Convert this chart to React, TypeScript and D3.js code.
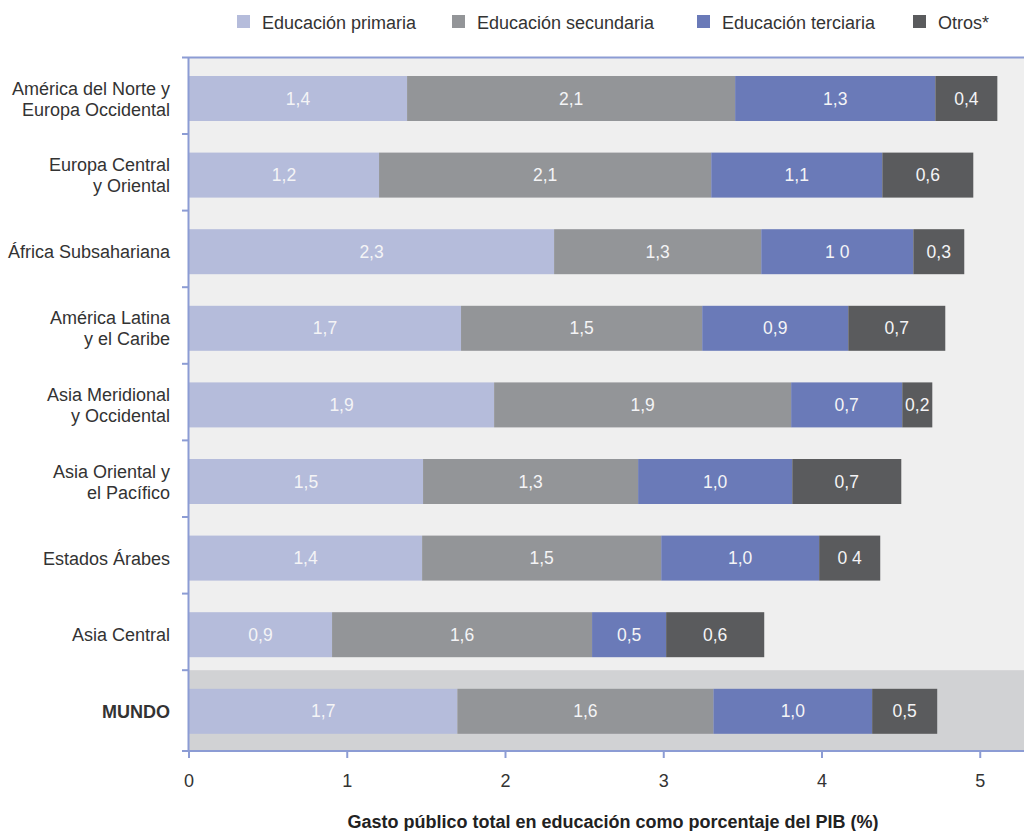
import React from "react";
import * as d3 from "d3";

const categories = [
  ["América del Norte y", "Europa Occidental"],
  ["Europa Central", "y Oriental"],
  ["África Subsahariana"],
  ["América Latina", "y el Caribe"],
  ["Asia Meridional", "y Occidental"],
  ["Asia Oriental y", "el Pacífico"],
  ["Estados Árabes"],
  ["Asia Central"],
  ["MUNDO"],
];

const seriesNames = ["Educación primaria", "Educación secundaria", "Educación terciaria", "Otros*"];
const seriesColors = ["#b5bcdb", "#939598", "#6a7ab8", "#5a5b5d"];

const primaria = [1.378, 1.201, 2.307, 1.719, 1.928, 1.479, 1.473, 0.904, 1.696];
const secundaria = [2.073, 2.099, 1.309, 1.524, 1.877, 1.359, 1.511, 1.643, 1.618];
const terciaria = [1.265, 1.081, 0.961, 0.923, 0.702, 0.974, 0.998, 0.468, 1.003];
const otros = [0.392, 0.575, 0.322, 0.613, 0.19, 0.689, 0.386, 0.62, 0.411];

const primariaLabels = ["1,4", "1,2", "2,3", "1,7", "1,9", "1,5", "1,4", "0,9", "1,7"];
const secundariaLabels = ["2,1", "2,1", "1,3", "1,5", "1,9", "1,3", "1,5", "1,6", "1,6"];
const terciariaLabels = ["1,3", "1,1", "1 0", "0,9", "0,7", "1,0", "1,0", "0,5", "1,0"];
const otrosLabels = ["0,4", "0,6", "0,3", "0,7", "0,2", "0,7", "0 4", "0,6", "0,5"];

const xTicks = [0, 1, 2, 3, 4, 5];
const axisTitle = "Gasto público total en educación como porcentaje del PIB (%)";

const series = [primaria, secundaria, terciaria, otros];
const seriesLabels = [primariaLabels, secundariaLabels, terciariaLabels, otrosLabels];

export default function App() {
  const W = 1024;
  const H = 831;
  const left = 189;
  const right = 1024;
  const top = 57.4;
  const bandEnd = 57.4 + 9 * 76.6;
  const axisY = 751;
  const font = "'Liberation Sans', Arial, Helvetica, sans-serif";
  const axisColor = "#8c9cd4";

  const x = d3.scaleLinear().domain([0, 5]).range([left, left + 5 * 158.25]);
  const idx = categories.map((_, i) => i);
  const y = d3.scaleBand<number>().domain(idx).range([top, bandEnd]);
  const barOff = 18.6;
  const barH = 45;

  const stacked = idx.map((i) => {
    let acc = 0;
    return series.map((s, k) => {
      const x0 = acc;
      acc += s[i];
      return { x0, x1: acc, k, label: seriesLabels[k][i] };
    });
  });

  const last = categories.length - 1;
  const legendX = [237, 452, 697, 913];

  return (
    <svg width={W} height={H} style={{ position: "absolute", left: 0, top: 0, background: "#fff" }} fontFamily={font}>
      {/* legend */}
      {seriesNames.map((n, k) => (
        <g key={n}>
          <rect x={legendX[k]} y={15} width={13} height={13} fill={seriesColors[k]} />
          <text x={legendX[k] + 25} y={28.5} fontSize={18} fill="#333">{n}</text>
        </g>
      ))}

      {/* plot background */}
      <rect x={left} y={top} width={right - left} height={axisY - top} fill="#efefef" />
      <rect x={left} y={y(last)!} width={right - left} height={axisY - y(last)!} fill="#d1d2d4" />

      {/* bars */}
      {stacked.map((segs, i) => (
        <g key={i}>
          {segs.map((s) => (
            <g key={s.k}>
              <rect
                x={x(s.x0)}
                y={y(i)! + barOff}
                width={x(s.x1) - x(s.x0)}
                height={barH}
                fill={seriesColors[s.k]}
              />
              <text
                x={(x(s.x0) + x(s.x1)) / 2}
                y={y(i)! + barOff + barH / 2 + 6}
                textAnchor="middle"
                fontSize={17.5}
                fill="#f4f4f6"
              >
                {s.label}
              </text>
            </g>
          ))}
        </g>
      ))}

      {/* category labels */}
      {categories.map((lines, i) => {
        const cy = y(i)! + barOff + barH / 2;
        const lh = 21;
        const startY = cy - ((lines.length - 1) * lh) / 2 + 6.5;
        const isWorld = i === last;
        return (
          <text key={i} textAnchor="end" fontSize={18} fill="#333" fontWeight={isWorld ? "bold" : "normal"}>
            {lines.map((l, j) => (
              <tspan key={j} x={170} y={startY + j * lh}>{l}</tspan>
            ))}
          </text>
        );
      })}

      {/* axes */}
      <line x1={182} x2={right} y1={top} y2={top} stroke={axisColor} strokeWidth={2} />
      <line x1={left - 0.5} x2={left - 0.5} y1={top} y2={axisY} stroke={axisColor} strokeWidth={2} />
      <line x1={182} x2={right} y1={axisY} y2={axisY} stroke={axisColor} strokeWidth={2} />
      {idx.slice(1).map((i) => (
        <line key={i} x1={182} x2={left} y1={y(i)!} y2={y(i)!} stroke={axisColor} strokeWidth={2} />
      ))}
      {xTicks.map((t) => (
        <g key={t}>
          <line x1={x(t)} x2={x(t)} y1={axisY} y2={axisY + 7} stroke={axisColor} strokeWidth={2} />
          <text x={x(t)} y={787} textAnchor="middle" fontSize={18} fill="#333">{t}</text>
        </g>
      ))}
      <text x={613} y={828} textAnchor="middle" fontSize={18} fontWeight="bold" fill="#222">{axisTitle}</text>
    </svg>
  );
}
